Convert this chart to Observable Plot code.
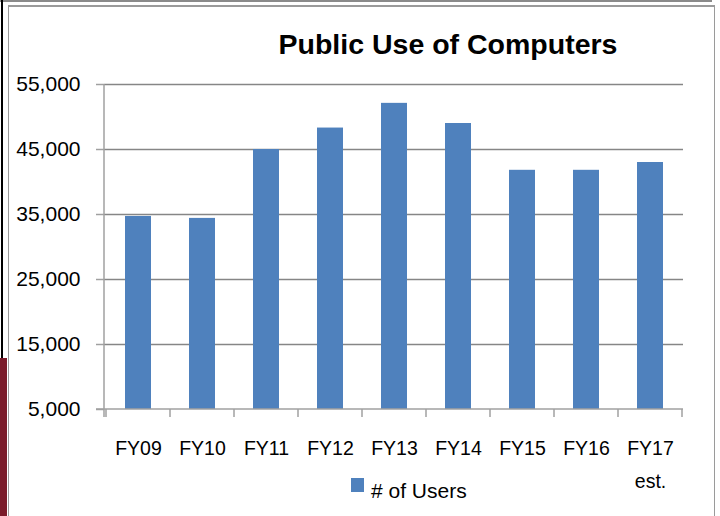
<!DOCTYPE html>
<html><head><meta charset="utf-8">
<script src="https://cdn.jsdelivr.net/npm/d3@7"></script>
<script src="https://cdn.jsdelivr.net/npm/@observablehq/plot@0.6"></script>
<style>
html,body{margin:0;padding:0;background:#fff;}
#wrap{position:relative;width:720px;height:516px;overflow:hidden;background:#fff;font-family:"Liberation Sans",Arial,sans-serif;color:#000;}
#chart{position:absolute;left:0;top:0;}
.deco{position:absolute;}
#title{position:absolute;left:248px;width:400px;top:30px;text-align:center;font-weight:bold;font-size:28.5px;line-height:1;white-space:nowrap;}
#swatch{position:absolute;left:351px;top:478px;width:13px;height:14px;background:#4F81BD;}
#legtext{position:absolute;left:371px;top:479.5px;font-size:21px;line-height:1;white-space:nowrap;}
</style></head>
<body>
<div id="wrap">
  <div class="deco" style="left:0;top:0;width:712px;height:2px;background:#8a8a8a"></div>
  <div class="deco" style="left:8px;top:5px;width:707px;height:1.5px;background:#9a9a9a"></div>
  <div class="deco" style="left:7.5px;top:5px;width:1.5px;height:511px;background:#9a9a9a"></div>
  <div class="deco" style="left:713.5px;top:5px;width:1.5px;height:511px;background:#9a9a9a"></div>
  <div class="deco" style="left:1px;top:0;width:2px;height:358px;background:#000"></div>
  <div class="deco" style="left:0;top:358px;width:7px;height:158px;background:#7a1b2a"></div>
  <div id="chart"></div>
  <div id="title"></div>
  <div id="swatch"></div>
  <div id="legtext"></div>
</div>
<script>
const chartTitle = "Public Use of Computers";
const seriesName = "# of Users";
const categories = ["FY09","FY10","FY11","FY12","FY13","FY14","FY15","FY16","FY17 est."];
const users = [34700, 34400, 45000, 48300, 52100, 49000, 41800, 41800, 43000];
const yTicks = [5000, 15000, 25000, 35000, 45000, 55000];

const table = categories.map((c, i) => ({category: c, value: users[i]}));
const yMin = yTicks[0], yMax = yTicks[yTicks.length - 1];
const barColor = "#4F81BD";
const axisColor = "#a0a0a0";
const gridColor = "#868686";

function axisLines(index, scales, values, dimensions) {
  const {width, height, marginLeft, marginRight} = dimensions;
  const x = scales.x, y = scales.y;
  const g = d3.create("svg:g");
  const left = marginLeft, right = width - marginRight;
  const yb = y(yMin), yt = y(yMax);
  const step = x.step ? x.step() : (right - left) / categories.length;
  const bw = x.bandwidth ? x.bandwidth() : step * 0.4;
  const bounds = categories.map(c => x(c) - (step - bw) / 2);
  bounds.push(bounds[bounds.length - 1] + step);
  g.append("line").attr("x1", left).attr("x2", left).attr("y1", yt).attr("y2", yb + 8)
    .attr("stroke", axisColor).attr("stroke-width", 1.5);
  g.append("line").attr("x1", left - 8).attr("x2", right).attr("y1", yb).attr("y2", yb)
    .attr("stroke", axisColor).attr("stroke-width", 1.5);
  g.selectAll("line.bt").data(bounds).join("line").attr("class", "bt")
    .attr("x1", d => d).attr("x2", d => d).attr("y1", yb).attr("y2", yb + 8)
    .attr("stroke", axisColor).attr("stroke-width", 1.5);
  return g.node();
}

const chart = Plot.plot({
  width: 720,
  height: 516,
  marginLeft: 104,
  marginRight: 37,
  marginTop: 84,
  marginBottom: 107,
  style: {fontFamily: "'Liberation Sans', Arial, sans-serif", fontSize: "21px", color: "#000", background: "transparent", overflow: "visible"},
  x: {domain: categories, paddingInner: 0.6, paddingOuter: 0.3},
  y: {domain: [yMin, yMax]},
  marks: [
    Plot.ruleY(yTicks.filter(d => d > yMin), {stroke: gridColor, strokeWidth: 1.5}),
    Plot.barY(table, {x: "category", y1: () => yMin, y2: "value", fill: barColor}),
    axisLines,
    Plot.axisY({ticks: yTicks, tickFormat: d3.format(","), tickSize: 8, tickPadding: 16, stroke: axisColor, strokeWidth: 1.5, fontSize: 21, label: null}),
    Plot.axisX({tickSize: 0, tickPadding: 22, tickFormat: d => d.replace(" ", "\n"), fontSize: 19.5, lineHeight: 1.7, label: null})
  ]
});
document.getElementById("chart").appendChild(chart);
document.getElementById("title").textContent = chartTitle;
document.getElementById("legtext").textContent = seriesName;
</script>
</body></html>
